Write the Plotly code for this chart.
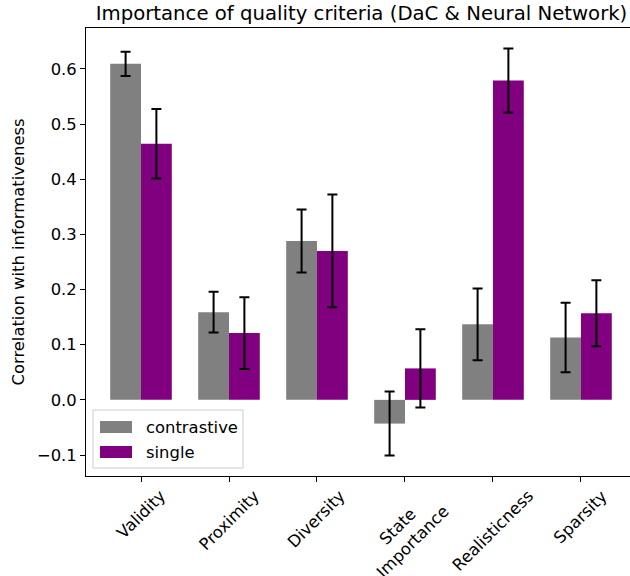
import plotly.graph_objects as go

categories = ["Validity", "Proximity", "Diversity", "State<br>Importance", "Realisticness", "Sparsity"]
contrastive = [0.609, 0.159, 0.288, -0.043, 0.137, 0.113]
contrastive_err = [0.022, 0.037, 0.057, 0.058, 0.065, 0.063]
single = [0.464, 0.121, 0.270, 0.057, 0.579, 0.157]
single_err = [0.063, 0.065, 0.102, 0.071, 0.058, 0.060]
y_ticks = [-0.1, 0.0, 0.1, 0.2, 0.3, 0.4, 0.5, 0.6]
series_names = ["contrastive", "single"]
series_colors = ["#808080", "#800080"]

font = "DejaVu Sans"
FS = 16.4
xs = list(range(len(categories)))

W, H = 630, 576
L, R, T, B = 86, 0, 28, 100
PW, PH = W - L - R, H - T - B


def px(x):
    return (x - L) / PW


def py(y):
    return 1 - (y - T) / PH


fig = go.Figure()
for name, vals, errs, col in zip(series_names, [contrastive, single], [contrastive_err, single_err], series_colors):
    fig.add_trace(go.Bar(
        x=xs, y=vals, name=name, marker=dict(color=col, line=dict(width=0)),
        error_y=dict(type="data", array=errs, color="black", thickness=2, width=5),
        showlegend=False,
    ))

# legend (drawn manually to match box/patch sizes)
shapes = [dict(type="rect", xref="paper", yref="paper", x0=px(93), x1=px(243), y0=py(468), y1=py(410),
               line=dict(color="#cccccc", width=1), fillcolor="rgba(255,255,255,0.8)", layer="above")]
annotations = []
for i, (name, col) in enumerate(zip(series_names, series_colors)):
    cy = 427 + 25 * i
    shapes.append(dict(type="rect", xref="paper", yref="paper", x0=px(100), x1=px(132),
                       y0=py(cy + 6), y1=py(cy - 6), line=dict(width=0), fillcolor=col, layer="above"))
    annotations.append(dict(xref="paper", yref="paper", x=px(144), y=py(cy), text=name, showarrow=False,
                            xanchor="left", yanchor="middle", font=dict(size=FS, family=font, color="black")))

# rotated category labels, centred under each tick (matplotlib style)
for xv, lab in zip(xs, categories):
    annotations.append(dict(xref="x", yref="paper", x=xv, y=py(485), text=lab, showarrow=False,
                            textangle=-45, xanchor="center", yanchor="top", align="center",
                            borderpad=0, font=dict(size=FS, family=font, color="black")))

fig.update_layout(
    width=W, height=H,
    margin=dict(l=L, r=R, t=T, b=B, autoexpand=False),
    paper_bgcolor="white", plot_bgcolor="white",
    barmode="group", bargap=0.3, bargroupgap=0,
    font=dict(family=font, size=FS, color="black"),
    title=dict(text="Importance of quality criteria (DaC & Neural Network)",
               x=(86 + 637) / 2 / W, xanchor="center", y=1 - 13 / H, yanchor="middle",
               font=dict(size=19.7, family=font)),
    showlegend=False,
    shapes=shapes,
    annotations=annotations,
    xaxis=dict(
        range=[-0.625, 5.557], tickmode="array", tickvals=xs, showticklabels=False,
        ticks="outside", ticklen=5, tickwidth=1, tickcolor="black",
        showline=True, linecolor="black", linewidth=1, mirror=True, automargin=False,
        showgrid=False, zeroline=False,
    ),
    yaxis=dict(
        range=[-0.138, 0.674], tickmode="array", tickvals=y_ticks,
        tickformat=".1f", ticks="outside", ticklen=5, tickwidth=1, tickcolor="black",
        showline=True, linecolor="black", linewidth=1, automargin=False,
        showgrid=False, zeroline=False, tickfont=dict(size=FS),
        title=dict(text="Correlation with informativeness", font=dict(size=FS), standoff=8),
    ),
)

fig.write_html("out.html")
